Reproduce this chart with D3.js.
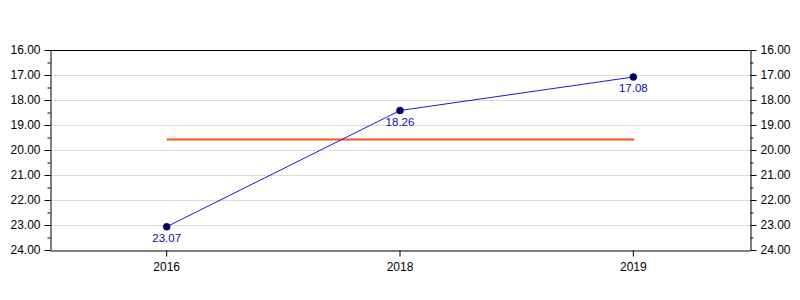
<!DOCTYPE html>
<html>
<head>
<meta charset="utf-8">
<script src="https://cdn.jsdelivr.net/npm/d3@7"></script>
<style>
  body { margin: 0; background: #fff; }
  text { font-family: "Liberation Sans", Arial, sans-serif; }
</style>
</head>
<body>
<svg width="800" height="300"></svg>
<script>
// chart data
var years = ["2016", "2018", "2019"];
var values = [23.07, 18.42, 17.08];
var valueLabels = ["23.07", "18.26", "17.08"];
var target = 19.58;
var yTicks = [16, 17, 18, 19, 20, 21, 22, 23, 24];
var yMinorTicks = [16.5, 17.5, 18.5, 19.5, 20.5, 21.5, 22.5, 23.5];

var svg = d3.select("svg"),
    margin = {top: 50, right: 50, bottom: 50, left: 50},
    width = +svg.attr("width") - margin.left - margin.right,
    height = +svg.attr("height") - margin.top - margin.bottom;

var g = svg.append("g").attr("transform", "translate(" + margin.left + "," + margin.top + ")");

var x = d3.scaleBand().domain(years).range([0, width]);
var y = d3.scaleLinear().domain([16, 24]).range([0, height]);

function cx(d) { return x(d) + x.bandwidth() / 2; }

// gridlines
g.selectAll(".grid")
    .data(yTicks.slice(1, -1))
    .enter().append("line")
    .attr("x1", 0).attr("x2", width)
    .attr("y1", function(d) { return y(d) + 0.5; })
    .attr("y2", function(d) { return y(d) + 0.5; })
    .attr("stroke", "#dcdcdc");

// frame top
g.append("line")
    .attr("x1", 0).attr("x2", width)
    .attr("y1", 0.5).attr("y2", 0.5)
    .attr("stroke", "#000");

// axes
var fmt = d3.format(".2f");
var left = g.append("g")
    .attr("transform", "translate(0.5,0)")
    .call(d3.axisLeft(y).tickValues(yTicks).tickFormat(fmt).tickSizeOuter(0).tickPadding(4));
left.append("g").selectAll("line").data(yMinorTicks).enter().append("line")
    .attr("x1", -3).attr("x2", 0)
    .attr("y1", function(d) { return y(d) + 0.5; }).attr("y2", function(d) { return y(d) + 0.5; })
    .attr("stroke", "#000");

var right = g.append("g")
    .attr("transform", "translate(" + (width + 0.5) + ",0)")
    .call(d3.axisRight(y).tickValues(yTicks).tickFormat(fmt).tickSizeOuter(0).tickPadding(4));
right.append("g").selectAll("line").data(yMinorTicks).enter().append("line")
    .attr("x1", 0).attr("x2", 3)
    .attr("y1", function(d) { return y(d) + 0.5; }).attr("y2", function(d) { return y(d) + 0.5; })
    .attr("stroke", "#000");

g.append("g")
    .attr("transform", "translate(0," + (height + 0.5) + ")")
    .call(d3.axisBottom(x).tickSizeOuter(0).tickPadding(6));

svg.selectAll(".tick text").attr("font-size", 12).attr("fill", "#000")
    .style("font-family", "'Liberation Sans', Arial, sans-serif");
svg.selectAll(".domain").attr("stroke", "#000");

// target line
g.append("line")
    .attr("x1", cx(years[0])).attr("x2", cx(years[years.length - 1]) + 1)
    .attr("y1", y(target)).attr("y2", y(target))
    .attr("stroke", "#ff5514")
    .attr("stroke-width", 2);

// series line
var line = d3.line()
    .x(function(d, i) { return cx(years[i]); })
    .y(function(d) { return y(d); });

g.append("path")
    .datum(values)
    .attr("d", line)
    .attr("fill", "none")
    .attr("stroke", "#1a1acc")
    .attr("stroke-width", 1);

g.selectAll(".pt")
    .data(values)
    .enter().append("circle")
    .attr("cx", function(d, i) { return cx(years[i]); })
    .attr("cy", function(d) { return y(d); })
    .attr("r", 3.5)
    .attr("fill", "#000066")
    .attr("stroke", "#000033")
    .attr("stroke-width", 0.5);

g.selectAll(".lbl")
    .data(values)
    .enter().append("text")
    .attr("x", function(d, i) { return cx(years[i]); })
    .attr("y", function(d) { return y(d) + 15; })
    .attr("text-anchor", "middle")
    .attr("font-size", 11.5)
    .attr("fill", "#0c0c9c")
    .text(function(d, i) { return valueLabels[i]; });
</script>
</body>
</html>
